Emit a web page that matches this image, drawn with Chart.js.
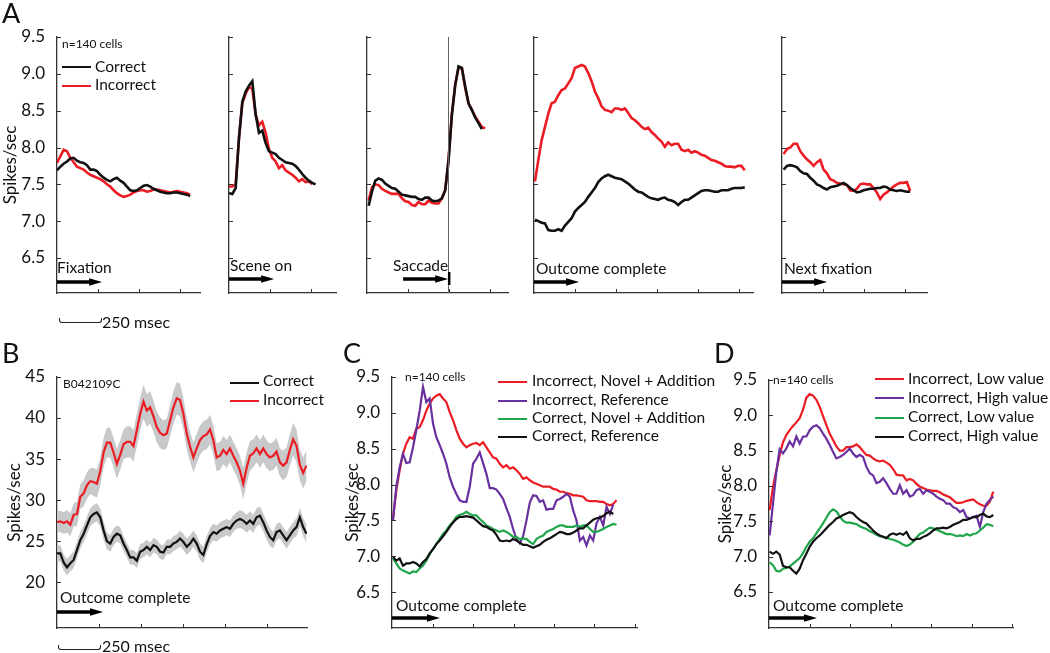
<!DOCTYPE html>

<html>
  <head>
    <title>Outcome responses - spike rates</title>

    <script src="https://cdn.jsdelivr.net/npm/chart.js@^4"></script>

    <script>
      // Panel A, n=140 cells, aligned on each task event (one value per 20.3 ms bin)
      const fixCorrect = [7.69,7.74,7.78,7.81,7.85,7.86,7.82,7.80,7.79,7.76,7.70,7.70,7.68,7.63,7.59,7.56,7.54,7.57,7.59,7.55,7.52,7.47,7.42,7.41,7.42,7.45,7.48,7.49,7.47,7.44,7.42,7.40,7.39,7.38,7.38,7.39,7.39,7.38,7.37,7.36,7.34]
      const fixIncorrect = [7.79,7.88,7.97,7.95,7.86,7.80,7.74,7.72,7.70,7.66,7.63,7.61,7.59,7.57,7.54,7.50,7.47,7.42,7.38,7.35,7.33,7.34,7.36,7.39,7.41,7.42,7.42,7.40,7.41,7.43,7.43,7.42,7.41,7.40,7.39,7.40,7.41,7.40,7.39,7.38,7.36]
      const sceneCorrect = [7.38,7.37,7.45,8.13,8.62,8.76,8.84,8.90,8.45,8.20,8.23,8.06,7.95,7.93,7.91,7.86,7.83,7.80,7.79,7.78,7.75,7.70,7.64,7.59,7.55,7.52,7.50]
      const sceneIncorrect = [7.47,7.47,7.50,8.13,8.60,8.73,8.82,8.80,8.45,8.30,8.35,8.20,7.98,7.86,7.81,7.72,7.76,7.69,7.66,7.63,7.59,7.54,7.57,7.53,7.54,7.50]
      const saccadeCorrect = [7.21,7.40,7.55,7.58,7.56,7.51,7.48,7.45,7.44,7.40,7.36,7.35,7.34,7.33,7.33,7.30,7.29,7.32,7.32,7.28,7.27,7.28,7.31,7.42,7.82,8.44,8.84,9.10,9.08,8.83,8.60,8.51,8.41,8.33,8.25]
      const saccadeIncorrect = [7.28,7.46,7.50,7.49,7.44,7.41,7.39,7.37,7.37,7.37,7.31,7.27,7.26,7.22,7.21,7.26,7.23,7.23,7.28,7.25,7.24,7.24,7.31,7.42,7.84,8.46,8.86,9.08,9.08,8.81,8.60,8.51,8.42,8.35,8.28,8.26]
      const outcomeCorrect = [7.02,7.00,6.98,6.97,6.88,6.87,6.87,6.89,6.87,6.94,6.99,7.04,7.13,7.18,7.22,7.26,7.33,7.39,7.45,7.53,7.58,7.61,7.63,7.61,7.59,7.58,7.57,7.54,7.51,7.47,7.43,7.40,7.39,7.36,7.33,7.31,7.30,7.29,7.31,7.32,7.29,7.28,7.26,7.22,7.26,7.29,7.29,7.32,7.35,7.38,7.41,7.42,7.42,7.41,7.40,7.40,7.42,7.42,7.42,7.44,7.45,7.45,7.45,7.46]
      const outcomeIncorrect = [7.54,7.83,8.10,8.28,8.46,8.60,8.62,8.71,8.78,8.80,8.87,8.94,9.08,9.10,9.12,9.10,9.01,8.90,8.76,8.67,8.56,8.51,8.50,8.48,8.53,8.53,8.51,8.53,8.47,8.40,8.37,8.33,8.28,8.25,8.27,8.21,8.17,8.12,8.08,8.01,8.07,8.03,8.05,8.05,7.97,7.95,7.97,7.93,7.95,7.93,7.90,7.89,7.86,7.83,7.82,7.80,7.78,7.75,7.74,7.74,7.73,7.75,7.75,7.69]
      const nextCorrect = [7.70,7.75,7.76,7.75,7.73,7.68,7.65,7.64,7.59,7.55,7.50,7.48,7.45,7.43,7.46,7.47,7.48,7.50,7.52,7.49,7.45,7.42,7.39,7.40,7.42,7.43,7.44,7.44,7.45,7.45,7.47,7.46,7.43,7.42,7.41,7.42,7.41,7.40,7.40]
      const nextIncorrect = [7.91,7.98,8.00,8.05,8.05,7.95,7.89,7.84,7.80,7.75,7.80,7.83,7.70,7.65,7.57,7.55,7.52,7.51,7.50,7.49,7.42,7.41,7.44,7.50,7.51,7.50,7.50,7.45,7.39,7.30,7.36,7.39,7.43,7.47,7.50,7.52,7.52,7.53,7.41]

      // Panel B, single cell B042109C (19.8 ms bins), mean and s.e.m.
      const cellCorrect = [23.5,23.5,22.4,21.8,22.3,22.7,23.9,25.1,25.9,26.9,27.9,28.3,28.5,27.9,26.3,25.0,24.7,25.5,25.9,25.7,24.7,23.9,23.0,23.0,22.6,23.7,23.9,24.3,23.9,24.5,24.3,23.7,23.6,24.3,24.3,24.7,24.9,25.3,24.9,24.3,24.7,25.3,24.7,23.7,23.3,24.6,25.6,26.1,25.9,26.3,26.5,26.7,26.5,27.1,27.5,27.7,27.5,27.1,27.5,27.1,27.9,28.1,27.3,26.3,25.5,25.1,26.1,26.3,25.7,25.1,25.7,26.3,26.7,27.9,26.7,25.9]
      const cellIncorrect = [27.3,27.4,27.2,27.4,27.0,28.2,28.3,30.4,30.8,31.8,32.3,32.2,32.0,33.5,35.8,37.0,37.0,35.8,34.4,35.5,36.8,37.1,37.1,36.6,38.5,40.5,42.0,40.9,41.3,40.2,38.9,38.2,37.9,38.1,39.7,41.3,42.4,42.2,40.5,38.1,36.5,35.2,36.3,37.3,37.8,38.0,38.6,37.3,35.2,35.4,36.1,35.6,36.3,35.4,34.6,33.6,32.0,33.9,35.4,35.7,36.3,35.6,36.3,35.6,35.2,35.4,35.9,34.6,34.2,34.6,36.1,37.4,36.6,34.3,33.3,34.2]
      const cellCorrectSem = [1.0,1.0,1.0,1.0,1.0,1.0,1.0,1.0,1.0,1.1,1.1,1.1,1.1,1.1,1.1,1.0,1.0,1.0,1.0,1.0,0.9,0.9,0.9,0.9,0.9,0.9,0.9,0.9,0.9,0.9,0.9,0.9,0.9,0.9,0.9,0.9,0.9,1.0,1.0,1.0,1.0,1.0,1.0,1.0,1.0,1.0,1.0,1.0,1.0,1.0,1.0,1.0,1.0,1.0,1.0,1.1,1.1,1.1,1.1,1.1,1.1,1.1,1.1,1.1,1.1,1.0,1.0,1.0,1.0,1.0,1.0,1.0,1.1,1.1,1.1,1.1]
      const cellIncorrectSem = [1.3,1.3,1.3,1.4,1.4,1.4,1.5,1.5,1.6,1.6,1.6,1.7,1.7,1.7,1.8,1.8,1.8,1.8,1.8,1.8,1.8,1.9,1.9,1.9,2.0,2.0,2.1,2.0,2.0,1.9,1.9,1.9,1.8,1.8,1.9,2.0,2.0,2.0,1.9,1.9,1.8,1.8,1.8,1.8,1.8,1.8,1.8,1.8,1.7,1.7,1.7,1.7,1.7,1.7,1.7,1.8,1.9,1.9,1.8,1.7,1.7,1.7,1.7,1.7,1.7,1.7,1.7,1.7,1.8,1.8,1.9,2.0,2.0,1.9,1.9,1.9]

      // Panel C, by scene type (20.6 ms bins)
      const novelIncorrect = [7.52,7.92,8.20,8.43,8.57,8.66,8.64,8.78,8.80,8.90,9.03,9.13,9.20,9.24,9.26,9.20,9.15,9.01,8.90,8.76,8.64,8.57,8.52,8.55,8.57,8.58,8.55,8.59,8.52,8.45,8.38,8.36,8.29,8.24,8.27,8.22,8.24,8.20,8.15,8.08,8.10,8.06,8.03,8.01,7.99,7.97,7.97,7.97,7.94,7.93,7.90,7.90,7.88,7.87,7.85,7.85,7.84,7.83,7.78,7.77,7.77,7.77,7.76,7.76,7.73,7.71,7.73,7.78]
      const refIncorrect = [7.50,7.97,8.24,8.43,8.30,8.31,8.52,8.76,9.03,9.36,9.15,9.20,8.85,8.66,8.55,8.43,8.29,8.10,7.97,7.87,7.78,7.76,7.76,7.97,8.29,8.36,8.45,8.30,8.15,7.95,7.95,7.93,7.87,7.80,7.67,7.55,7.38,7.24,7.18,7.28,7.50,7.75,7.85,7.84,7.76,7.78,7.65,7.66,7.66,7.78,7.80,7.83,7.87,7.83,7.64,7.50,7.22,7.27,7.15,7.29,7.22,7.46,7.55,7.43,7.69,7.59,7.72]
      const novelCorrect = [6.97,6.90,6.83,6.80,6.78,6.76,6.79,6.78,6.83,6.87,6.94,7.03,7.10,7.17,7.24,7.31,7.36,7.43,7.48,7.55,7.58,7.59,7.62,7.59,7.57,7.57,7.52,7.48,7.43,7.41,7.38,7.36,7.34,7.36,7.34,7.31,7.27,7.27,7.24,7.25,7.24,7.20,7.17,7.24,7.27,7.29,7.34,7.36,7.38,7.41,7.43,7.43,7.41,7.41,7.41,7.43,7.41,7.43,7.43,7.38,7.34,7.34,7.36,7.38,7.41,7.43,7.45,7.44]
      const refCorrect = [6.99,6.94,6.97,6.87,6.90,6.90,6.92,6.90,6.86,6.92,6.96,7.04,7.10,7.17,7.22,7.28,7.34,7.41,7.47,7.52,7.55,7.55,7.56,7.55,7.54,7.50,7.46,7.42,7.41,7.38,7.36,7.30,7.22,7.21,7.22,7.21,7.24,7.22,7.19,7.16,7.16,7.14,7.12,7.14,7.16,7.20,7.23,7.25,7.28,7.31,7.34,7.33,7.31,7.31,7.33,7.36,7.39,7.39,7.43,7.47,7.51,7.53,7.54,7.56,7.60,7.62,7.59]

      // Panel D, by scene value (20.6 ms bins)
      const lowIncorrect = [7.66,7.99,8.22,8.44,8.62,8.72,8.79,8.85,8.90,8.96,9.08,9.25,9.30,9.28,9.22,9.12,8.99,8.86,8.74,8.65,8.56,8.50,8.50,8.55,8.55,8.56,8.59,8.55,8.49,8.44,8.43,8.39,8.36,8.35,8.36,8.33,8.30,8.24,8.16,8.15,8.15,8.08,8.10,8.08,8.03,7.99,7.97,7.95,7.94,7.93,7.93,7.91,7.88,7.86,7.84,7.80,7.76,7.76,7.77,7.79,7.80,7.81,7.77,7.74,7.72,7.72,7.78,7.92]
      const highIncorrect = [7.30,7.75,8.20,8.52,8.46,8.53,8.63,8.56,8.70,8.60,8.70,8.70,8.79,8.84,8.86,8.82,8.74,8.67,8.58,8.48,8.39,8.41,8.44,8.48,8.53,8.46,8.41,8.44,8.41,8.27,8.18,8.15,8.04,8.06,8.11,8.04,7.96,7.89,7.89,8.01,7.89,7.94,7.85,7.87,7.94,7.96,7.89,7.94,7.92,7.89,7.85,7.82,7.80,7.75,7.75,7.70,7.68,7.63,7.66,7.56,7.54,7.56,7.58,7.42,7.63,7.75,7.80,7.85]
      const lowCorrect = [6.92,6.88,6.80,6.79,6.83,6.84,6.86,6.90,6.94,6.98,7.05,7.14,7.21,7.26,7.33,7.40,7.47,7.55,7.63,7.67,7.64,7.57,7.51,7.48,7.48,7.47,7.46,7.43,7.41,7.39,7.36,7.34,7.31,7.29,7.28,7.27,7.25,7.24,7.22,7.20,7.17,7.15,7.17,7.21,7.27,7.32,7.34,7.38,7.41,7.40,7.38,7.36,7.34,7.32,7.32,7.31,7.29,7.30,7.29,7.32,7.30,7.32,7.33,7.37,7.41,7.46,7.45,7.43]
      const highCorrect = [7.07,7.04,7.07,7.03,6.87,6.85,6.85,6.80,6.76,6.83,6.95,7.04,7.14,7.21,7.26,7.30,7.35,7.40,7.45,7.49,7.54,7.56,7.59,7.61,7.63,7.61,7.56,7.52,7.49,7.47,7.42,7.37,7.33,7.30,7.28,7.26,7.31,7.33,7.31,7.33,7.31,7.35,7.26,7.23,7.25,7.25,7.28,7.30,7.33,7.37,7.40,7.40,7.41,7.40,7.42,7.45,7.47,7.49,7.52,7.52,7.54,7.56,7.56,7.59,7.61,7.57,7.56,7.59]

      const rateTicks = [6.5, 7.0, 7.5, 8.0, 8.5, 9.0, 9.5]
      const cellTicks = [20, 25, 30, 35, 40, 45]
      const saccadeMs = 495

      const RED = "#ec1c24"
      const PURPLE = "#6930a0"
      const GREEN = "#1fa64a"
      const BLACK = "#111111"
      const BAND = "#c8c9cb"
      const AXIS = "#333333"

      const PAD_TOP = 12
      const PAD_RIGHT = 6
      const X_AXIS_H = 4

      function series(start, bin, values) {
        return values.map((v, i) => ({ x: start + i * bin, y: v }))
      }

      function line(label, data, color, order, width) {
        return {
          label, data, order,
          borderColor: color,
          borderWidth: width,
          pointRadius: 0,
          tension: 0,
          fill: false,
        }
      }

      // tick marks pointing into the plot, like the original
      const innerTicks = {
        id: "innerTicks",
        afterDraw(chart) {
          const { ctx, chartArea, scales } = chart
          ctx.save()
          ctx.strokeStyle = AXIS
          ctx.lineWidth = 1
          scales.x.ticks.forEach(t => {
            const x = Math.round(scales.x.getPixelForValue(t.value)) + 0.5
            ctx.beginPath()
            ctx.moveTo(x, chartArea.bottom)
            ctx.lineTo(x, chartArea.bottom - 4)
            ctx.stroke()
          })
          scales.y.ticks.forEach(t => {
            const y = Math.round(scales.y.getPixelForValue(t.value)) + 0.5
            ctx.beginPath()
            ctx.moveTo(chartArea.left, y)
            ctx.lineTo(chartArea.left + 4, y)
            ctx.stroke()
          })
          ctx.restore()
        }
      }

      // event arrow (and saccade marker line)
      const eventArrow = {
        id: "eventArrow",
        afterDatasetsDraw(chart, args, opts) {
          const { ctx, chartArea, scales } = chart
          ctx.save()
          if (opts.line != null) {
            const lx = Math.round(scales.x.getPixelForValue(opts.line)) + 0.5
            ctx.strokeStyle = "#666"
            ctx.lineWidth = 1
            ctx.beginPath()
            ctx.moveTo(lx, chartArea.top)
            ctx.lineTo(lx, chartArea.bottom)
            ctx.stroke()
          }
          const x0 = scales.x.getPixelForValue(opts.from || 0)
          const x1 = scales.x.getPixelForValue(opts.to)
          const y = chartArea.bottom - opts.rise
          ctx.fillStyle = "#000"
          ctx.strokeStyle = "#000"
          ctx.lineWidth = 3.5
          ctx.beginPath()
          ctx.moveTo(x0, y)
          ctx.lineTo(x1 - 10, y)
          ctx.stroke()
          ctx.beginPath()
          ctx.moveTo(x1, y)
          ctx.lineTo(x1 - 13, y - 3.8)
          ctx.lineTo(x1 - 13, y + 3.8)
          ctx.closePath()
          ctx.fill()
          if (opts.bar) {
            ctx.lineWidth = 2.5
            ctx.beginPath()
            ctx.moveTo(x1 + 1, y - 7)
            ctx.lineTo(x1 + 1, y + 6)
            ctx.stroke()
          }
          ctx.restore()
        }
      }

      function panel(spec) {
        const { left, right, top, bottom, yw, px250 } = spec
        const box = document.createElement("div")
        box.className = "panel"
        box.style.left = (left - yw) + "px"
        box.style.top = (top - PAD_TOP) + "px"
        box.style.width = (right - left + yw + PAD_RIGHT) + "px"
        box.style.height = (bottom - top + PAD_TOP + X_AXIS_H) + "px"
        const canvas = document.createElement("canvas")
        box.appendChild(canvas)
        document.getElementById("charts").appendChild(box)

        const xMax = (right - left) / px250 * 250
        const xTicks = []
        for (let t = 250; t < xMax; t += 250) xTicks.push(t)

        return new Chart(canvas, {
          type: "line",
          data: { datasets: spec.datasets },
          plugins: [innerTicks, eventArrow],
          options: {
            responsive: true,
            maintainAspectRatio: false,
            animation: false,
            events: [],
            layout: {
              autoPadding: false,
              padding: { top: PAD_TOP, right: PAD_RIGHT, left: 0, bottom: 0 },
            },
            plugins: {
              legend: { display: false },
              tooltip: { enabled: false },
              eventArrow: spec.arrow,
            },
            scales: {
              x: {
                type: "linear",
                min: 0,
                max: xMax,
                afterFit: s => {
                  s.height = X_AXIS_H
                  s.paddingLeft = s.paddingRight = 0
                },
                afterBuildTicks: s => { s.ticks = xTicks.map(v => ({ value: v })) },
                grid: { display: false },
                border: { display: true, color: AXIS, width: 1.3 },
                ticks: { display: false },
              },
              y: {
                min: spec.yMin,
                max: spec.yMax,
                // fixed axis width, and no extra room for the end labels
                afterFit: s => {
                  s.width = yw
                  s.paddingTop = s.paddingBottom = 0
                },
                afterBuildTicks: s => { s.ticks = spec.yTicks.map(v => ({ value: v })) },
                grid: { display: false },
                border: { display: true, color: AXIS, width: 1.3 },
                ticks: {
                  display: !!spec.labels,
                  padding: 4,
                  color: BLACK,
                  font: { size: 17 },
                  callback: spec.fmt,
                },
                title: {
                  display: !!spec.labels,
                  text: "Spikes/sec",
                  color: BLACK,
                  font: { size: 17 },
                  padding: { top: spec.titlePad || 0, bottom: 0 },
                },
              },
            },
          },
        })
      }

      addEventListener("DOMContentLoaded", () => {
        Chart.defaults.font.family = "Lato, 'Open Sans', sans-serif"

        const TOP = { top: 37, bottom: 293, yMin: 6.025, yMax: 9.5, yTicks: rateTicks, px250: 41 }
        const oneDecimal = v => v.toFixed(1)
        const binA = 20.3

        panel({
          ...TOP, left: 57, right: 200, yw: 57, labels: true, fmt: oneDecimal,
          arrow: { to: 275, rise: 11 },
          datasets: [
            line("Correct", series(0, binA, fixCorrect), BLACK, 0, 2.6),
            line("Incorrect", series(0, binA, fixIncorrect), RED, 1, 2.6),
          ],
        })
        panel({
          ...TOP, left: 229, right: 336, yw: 6,
          arrow: { to: 275, rise: 14 },
          datasets: [
            line("Correct", series(0, binA, sceneCorrect), BLACK, 0, 2.6),
            line("Incorrect", series(0, binA, sceneIncorrect), RED, 1, 2.6),
          ],
        })
        panel({
          ...TOP, left: 367, right: 508, yw: 6,
          arrow: { from: 220, to: saccadeMs, rise: 14, bar: true, line: saccadeMs },
          datasets: [
            line("Correct", series(10, binA, saccadeCorrect), BLACK, 0, 2.6),
            line("Incorrect", series(10, binA, saccadeIncorrect), RED, 1, 2.6),
          ],
        })
        panel({
          ...TOP, left: 534, right: 753, yw: 6,
          arrow: { to: 275, rise: 11 },
          datasets: [
            line("Correct", series(6, binA, outcomeCorrect), BLACK, 0, 2.6),
            line("Incorrect", series(6, binA, outcomeIncorrect), RED, 1, 2.6),
          ],
        })
        panel({
          ...TOP, left: 782, right: 927, yw: 6,
          arrow: { to: 275, rise: 11 },
          datasets: [
            line("Correct", series(10, binA, nextCorrect), BLACK, 0, 2.6),
            line("Incorrect", series(10, binA, nextIncorrect), RED, 1, 2.6),
          ],
        })

        // Panel B with s.e.m. bands
        const binB = 19.8
        const band = (mean, sem, sign) => series(0, binB, mean.map((m, i) => m + sign * sem[i]))
        panel({
          left: 57, right: 307, top: 377, bottom: 628, yMin: 14.4, yMax: 45, yTicks: cellTicks,
          px250: 42, yw: 57, labels: true, titlePad: 4, fmt: v => v,
          arrow: { to: 274, rise: 16 },
          datasets: [
            line("Correct", series(0, binB, cellCorrect), BLACK, 0, 2.2),
            line("Incorrect", series(0, binB, cellIncorrect), RED, 1, 2.2),
            { data: band(cellIncorrect, cellIncorrectSem, 1), order: 5, fill: "+1", backgroundColor: BAND, borderWidth: 0, pointRadius: 0 },
            { data: band(cellIncorrect, cellIncorrectSem, -1), order: 6, fill: false, borderWidth: 0, pointRadius: 0 },
            { data: band(cellCorrect, cellCorrectSem, 1), order: 7, fill: "+1", backgroundColor: BAND, borderWidth: 0, pointRadius: 0 },
            { data: band(cellCorrect, cellCorrectSem, -1), order: 8, fill: false, borderWidth: 0, pointRadius: 0 },
          ],
        })

        const binC = 20.6
        panel({
          left: 392, right: 637, top: 377, bottom: 628, yMin: 6.0, yMax: 9.5, yTicks: rateTicks,
          px250: 40.5, yw: 50, labels: true, fmt: oneDecimal,
          arrow: { to: 296, rise: 10 },
          datasets: [
            line("Incorrect, Novel + Addition", series(6, binC, novelIncorrect), RED, 3, 2.2),
            line("Incorrect, Reference", series(6, binC, refIncorrect), PURPLE, 2, 2.2),
            line("Correct, Novel + Addition", series(6, binC, novelCorrect), GREEN, 1, 2.2),
            line("Correct, Reference", series(6, binC, refCorrect), BLACK, 0, 2.2),
          ],
        })

        panel({
          left: 769, right: 1013, top: 380, bottom: 628, yMin: 5.99, yMax: 9.5, yTicks: rateTicks,
          px250: 40.5, yw: 54, labels: true, fmt: oneDecimal,
          arrow: { to: 296, rise: 10 },
          datasets: [
            line("Incorrect, Low value", series(4, binC, lowIncorrect), RED, 3, 2.2),
            line("Incorrect, High value", series(4, binC, highIncorrect), PURPLE, 2, 2.2),
            line("Correct, Low value", series(4, binC, lowCorrect), GREEN, 1, 2.2),
            line("Correct, High value", series(4, binC, highCorrect), BLACK, 0, 2.2),
          ],
        })
      })
    </script>

    <style>
      html, body { margin: 0; padding: 0; background: #fff; }
      #figure {
        position: relative;
        width: 1050px;
        height: 653px;
        overflow: hidden;
        font-family: Lato, "Open Sans", sans-serif;
        color: #111;
      }
      .panel { position: absolute; }
      .t { position: absolute; white-space: nowrap; line-height: 1; font-size: 15.5px; }
      .letter { font-size: 27px; }
      .small { font-size: 12px; }
      .key { position: absolute; height: 2px; width: 29px; }
      .scalebar {
        position: absolute; height: 4px; width: 41px;
        border: 1px solid #222; border-top: none;
        border-radius: 0 0 3px 3px;
      }
    </style>
  </head>
  <body>
    <div id="figure">
      <div id="charts"></div>

      <!-- panel A -->
      <div class="t letter" style="left:2px; top:-1px">A</div>
      <div class="t small" style="left:62px; top:38px">n=140 cells</div>
      <div class="key" style="left:62px; top:66px; background:#111"></div>
      <div class="t" style="left:95px; top:59px">Correct</div>
      <div class="key" style="left:62px; top:85px; background:#ec1c24"></div>
      <div class="t" style="left:95px; top:77px">Incorrect</div>
      <div class="t" style="left:57px; top:260px">Fixation</div>
      <div class="t" style="left:230px; top:258px">Scene on</div>
      <div class="t" style="left:393px; top:258px">Saccade</div>
      <div class="t" style="left:536px; top:261px">Outcome complete</div>
      <div class="t" style="left:784px; top:261px">Next fixation</div>
      <div class="scalebar" style="left:59px; top:318px"></div>
      <div class="t" style="left:102px; top:314px; font-size:16px">250 msec</div>

      <!-- panel B -->
      <div class="t letter" style="left:2px; top:339px">B</div>
      <div class="t small" style="left:63px; top:378px">B042109C</div>
      <div class="key" style="left:230px; top:382px; background:#111"></div>
      <div class="t" style="left:263px; top:373px">Correct</div>
      <div class="key" style="left:230px; top:400px; background:#ec1c24"></div>
      <div class="t" style="left:263px; top:392px">Incorrect</div>
      <div class="t" style="left:60px; top:590px">Outcome complete</div>
      <div class="scalebar" style="left:58px; top:645px"></div>
      <div class="t" style="left:102px; top:638px; font-size:16px">250 msec</div>

      <!-- panel C -->
      <div class="t letter" style="left:343px; top:339px">C</div>
      <div class="t small" style="left:405px; top:371px">n=140 cells</div>
      <div class="key" style="left:498px; top:381px; background:#ec1c24"></div>
      <div class="t" style="left:532px; top:373px">Incorrect, Novel + Addition</div>
      <div class="key" style="left:498px; top:400px; background:#6930a0"></div>
      <div class="t" style="left:532px; top:392px">Incorrect, Reference</div>
      <div class="key" style="left:498px; top:418px; background:#1fa64a"></div>
      <div class="t" style="left:532px; top:410px">Correct, Novel + Addition</div>
      <div class="key" style="left:498px; top:436px; background:#111"></div>
      <div class="t" style="left:532px; top:428px">Correct, Reference</div>
      <div class="t" style="left:396px; top:598px">Outcome complete</div>

      <!-- panel D -->
      <div class="t letter" style="left:714px; top:339px">D</div>
      <div class="t small" style="left:773px; top:374px">n=140 cells</div>
      <div class="key" style="left:875px; top:378px; background:#ec1c24"></div>
      <div class="t" style="left:908px; top:371px">Incorrect, Low value</div>
      <div class="key" style="left:875px; top:397px; background:#6930a0"></div>
      <div class="t" style="left:908px; top:390px">Incorrect, High value</div>
      <div class="key" style="left:875px; top:417px; background:#1fa64a"></div>
      <div class="t" style="left:908px; top:409px">Correct, Low value</div>
      <div class="key" style="left:875px; top:436px; background:#111"></div>
      <div class="t" style="left:908px; top:428px">Correct, High value</div>
      <div class="t" style="left:773px; top:598px">Outcome complete</div>
    </div>
  </body>
</html>
